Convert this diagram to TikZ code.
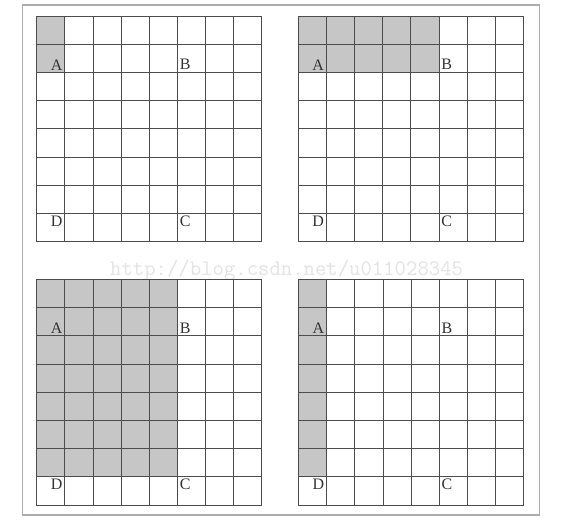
\documentclass[tikz,border=0pt]{standalone}
\usepackage{fontspec}
\setmainfont{Liberation Serif}
\newcommand\gridpanel[5]{%
  \begin{scope}[shift={(#1,#2)}]
  \begin{scope}[x=28.15pt,y=-28.2pt]
    \fill[cellfill] (0,0) rectangle (#3,#4);
    \foreach \i in {0,...,8} {
      \draw[gridline] (\i,0) -- (\i,8);
      \draw[gridline] (0,\i) -- (8,\i);
    }
    \node[ptlabel, anchor=south east] (#5A) at (1,2) {A};
    \node[ptlabel, anchor=south west] (#5B) at (5,2) {B};
    \node[ptlabel, anchor=north west] (#5C) at (5,7) {C};
    \node[ptlabel, anchor=north east] (#5D) at (1,7) {D};
  \end{scope}
  \end{scope}}
\begin{document}
\begin{tikzpicture}[x=1pt,y=-1pt,
  cellfill/.style={fill=gray!45},
  gridline/.style={draw=black!70, line width=0.9pt, line cap=rect},
  framebox/.style={draw=gray!65, line width=1.2pt},
  ptlabel/.style={font=\fontsize{16}{16}\selectfont, text=black!80, inner sep=2.2pt},
  watermark/.style={font=\ttfamily\fontsize{22.1}{22.1}\selectfont, text=gray!22, inner sep=0pt}]
\useasboundingbox (0,0) rectangle (564,520);
\fill[white] (0,0) rectangle (564,520);
\draw[framebox] (22.5,5) rectangle (539.5,515);
\node[watermark, anchor=base west] (wm) at (110,275) {http://blog.csdn.net/u011028345};
\gridpanel{36.7}{16}{1}{2}{tl}
\gridpanel{298.2}{16}{5}{2}{tr}
\gridpanel{36.7}{279.5}{5}{7}{bl}
\gridpanel{298.5}{279.5}{1}{7}{br}
\end{tikzpicture}
\end{document}
